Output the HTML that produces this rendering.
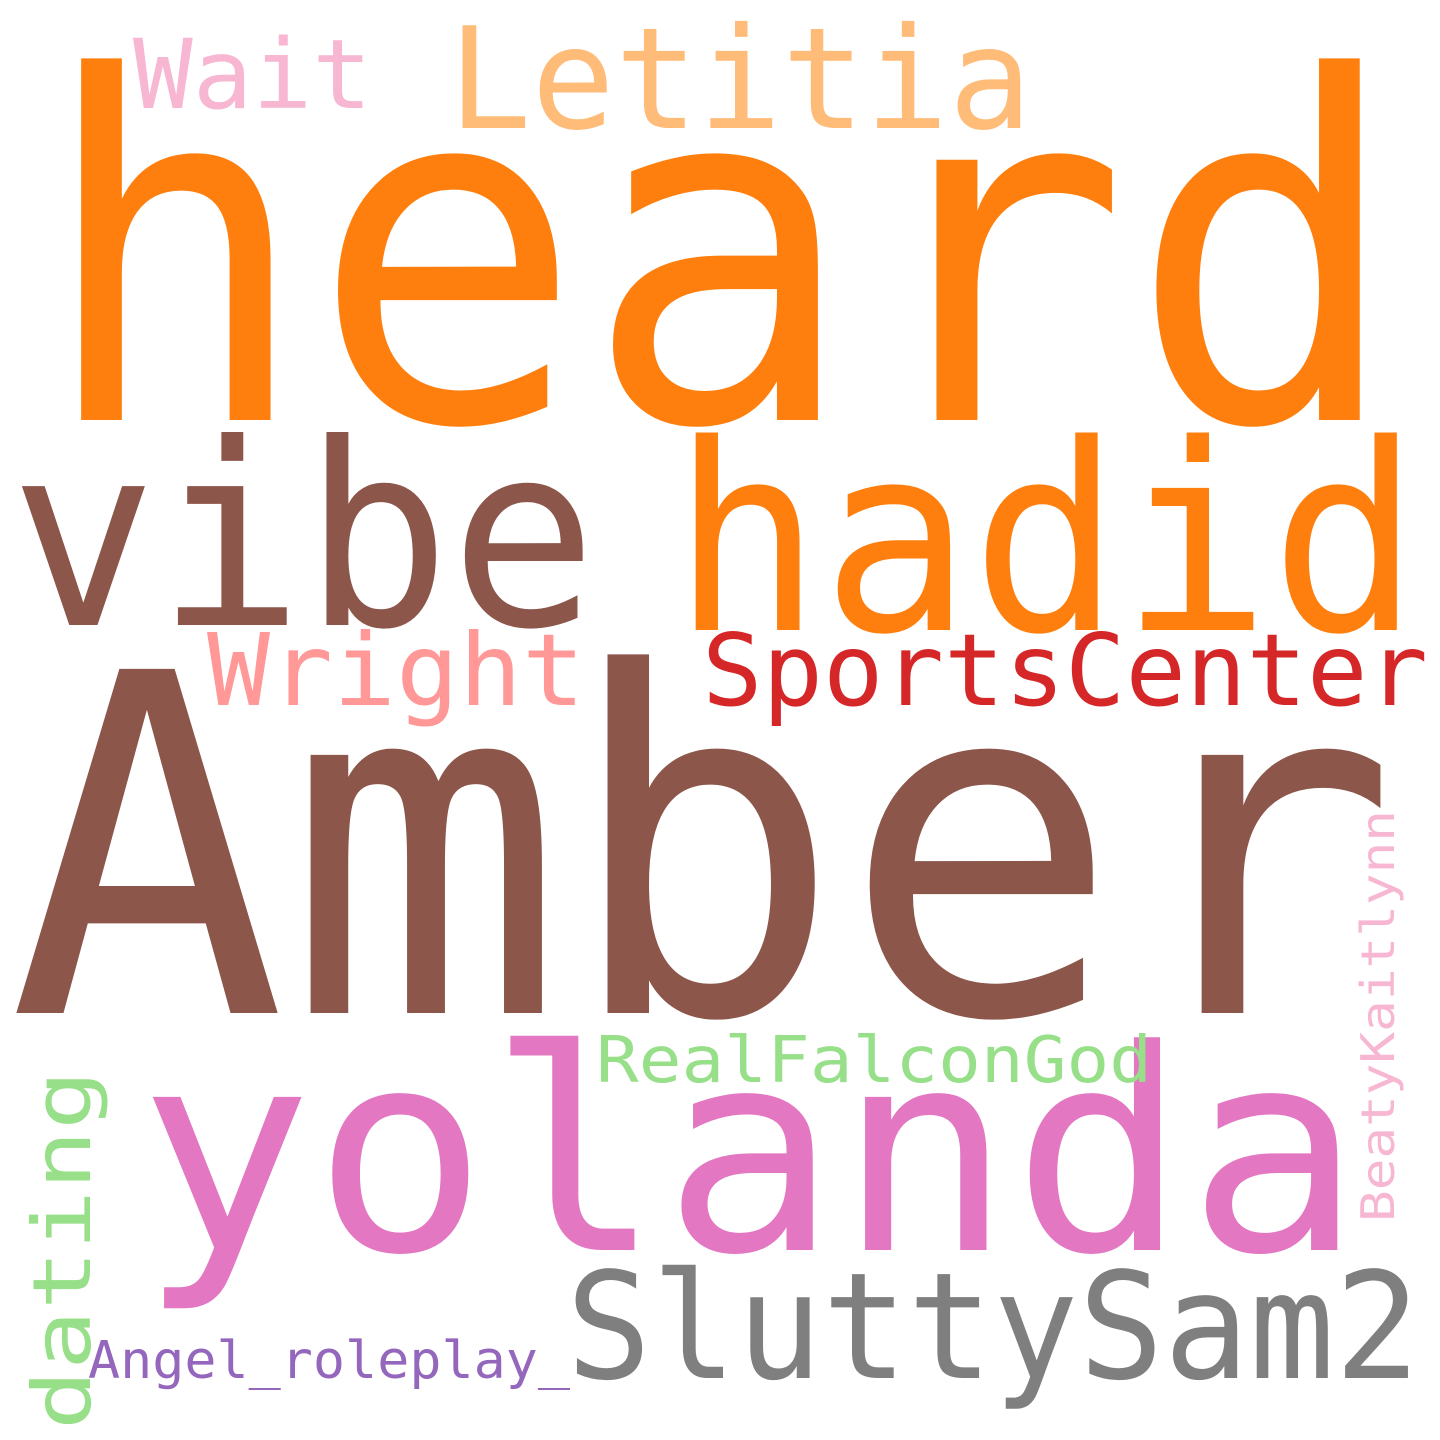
<!DOCTYPE html>
<html><head><meta charset="utf-8"><style>
html,body{margin:0;padding:0;background:#fff;}
svg{display:block;}
text{font-family:"DejaVu Sans Mono","Liberation Mono",monospace;}
</style></head><body>
<svg width="1440" height="1440" viewBox="0 0 1440 1440">
<rect width="1440" height="1440" fill="#fff"/>
<text x="38" y="420" font-size="476" fill="#ff7f0e" textLength="1364" lengthAdjust="spacingAndGlyphs">heard</text>
<text x="8" y="1013" font-size="472" fill="#8c564b" textLength="1390" lengthAdjust="spacingAndGlyphs">Amber</text>
<text x="10" y="625" font-size="254" fill="#8c564b" textLength="587" lengthAdjust="spacingAndGlyphs">vibe</text>
<text x="672" y="630" font-size="260" fill="#ff7f0e" textLength="748" lengthAdjust="spacingAndGlyphs">hadid</text>
<text x="138" y="1250" font-size="280" fill="#e377c2" textLength="1224" lengthAdjust="spacingAndGlyphs">yolanda</text>
<text x="448" y="128" font-size="141" fill="#ffbb78" textLength="584" lengthAdjust="spacingAndGlyphs">Letitia</text>
<text x="133" y="108" font-size="96" fill="#f7b6d2" textLength="239" lengthAdjust="spacingAndGlyphs">Wait</text>
<text x="207" y="705" font-size="100" fill="#ff9896" textLength="378" lengthAdjust="spacingAndGlyphs">Wright</text>
<text x="702" y="705" font-size="100" fill="#d62728" textLength="726" lengthAdjust="spacingAndGlyphs">SportsCenter</text>
<text x="596" y="1082" font-size="64" fill="#98df8a" textLength="556" lengthAdjust="spacingAndGlyphs">RealFalconGod</text>
<text x="566" y="1378" font-size="148" fill="#7f7f7f" textLength="854" lengthAdjust="spacingAndGlyphs">SluttySam2</text>
<text x="88" y="1378" font-size="52" fill="#9467bd" textLength="482" lengthAdjust="spacingAndGlyphs">Angel_roleplay_</text>
<text transform="translate(90,1430) rotate(-90)" font-size="80" fill="#98df8a" textLength="360" lengthAdjust="spacingAndGlyphs">dating</text>
<text transform="translate(1394,1222) rotate(-90)" font-size="46" fill="#f7b6d2" textLength="412" lengthAdjust="spacingAndGlyphs">BeatyKaitlynn</text>
</svg>
</body></html>
